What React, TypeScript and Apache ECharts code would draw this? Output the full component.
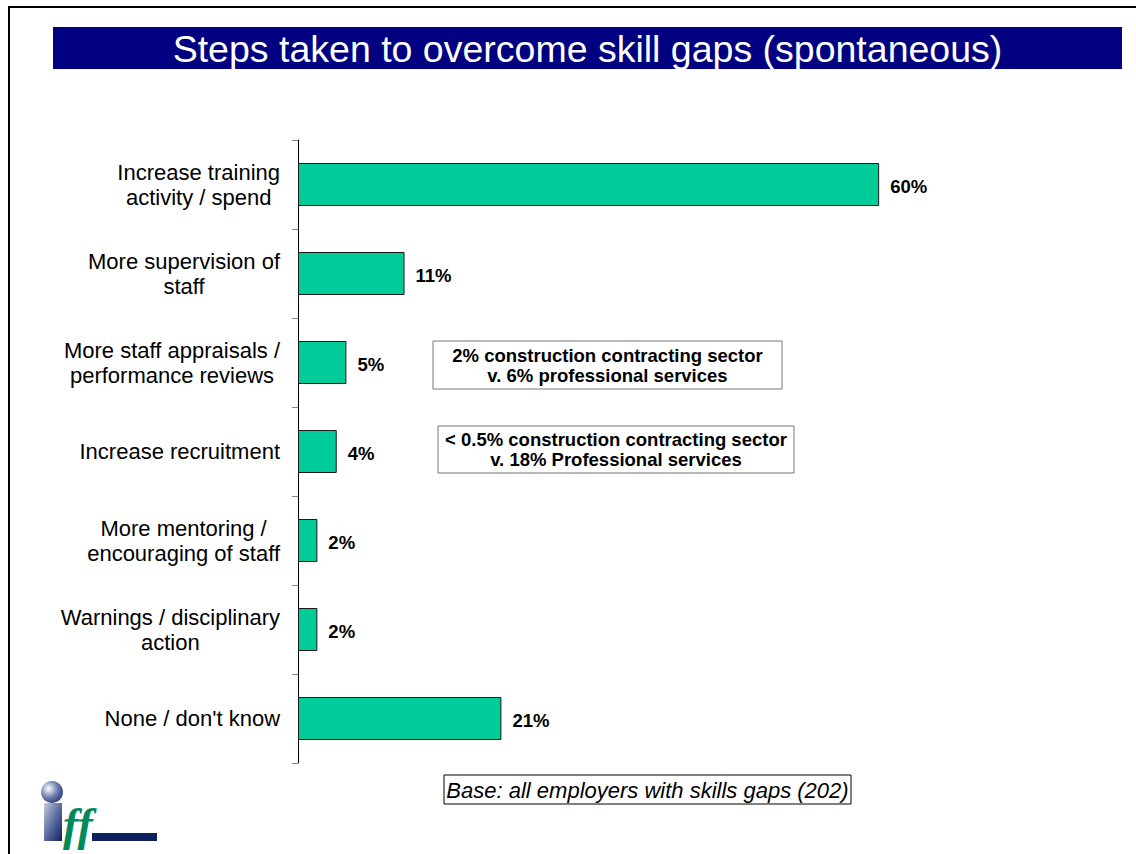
import React, { useEffect, useRef } from "react";
import * as echarts from "echarts";

const title = "Steps taken to overcome skill gaps (spontaneous)";
const categories = [
  "Increase training\nactivity / spend",
  "More supervision of\nstaff",
  "More staff appraisals /\nperformance reviews",
  "Increase recruitment",
  "More mentoring /\nencouraging of staff",
  "Warnings / disciplinary\naction",
  "None / don't know",
];
const values = [60, 11, 5, 4, 2, 2, 21];
const notes = [
  "2% construction contracting sector\nv. 6% professional services",
  "< 0.5% construction contracting sector\nv. 18% Professional services",
];
const baseNote = "Base: all employers with skills gaps (202)";

const FONT = "'Liberation Sans', Arial, Helvetica, sans-serif";

export default function App() {
  const ref = useRef<HTMLDivElement>(null);
  useEffect(() => {
    if (!ref.current) return;
    const chart = echarts.init(ref.current, undefined, { renderer: "svg" });
    const noteBox = (x: number, y: number, w: number, h: number, text: string) => ({
      type: "group",
      children: [
        { type: "rect", shape: { x, y, width: w, height: h }, style: { fill: "#fff", stroke: "#777", lineWidth: 1 } },
        {
          type: "text",
          style: {
            text,
            x: x + w / 2,
            y: y + h / 2,
            align: "center",
            verticalAlign: "middle",
            fill: "#000",
            fontFamily: FONT,
            fontWeight: "bold",
            fontSize: 18.5,
            lineHeight: 20,
          },
        },
      ],
    });
    chart.setOption({
      animation: false,
      backgroundColor: "#fff",
      grid: { left: 298, top: 140, width: 678, height: 623, containLabel: false },
      xAxis: { type: "value", min: 0, max: 70, show: false },
      yAxis: {
        type: "category",
        data: categories,
        inverse: true,
        axisLine: { show: true, lineStyle: { color: "#000", width: 1 } },
        axisTick: { show: true, length: 6, lineStyle: { color: "#888" } },
        splitLine: { show: false },
        axisLabel: {
          margin: 18,
          align: "right",
          formatter: (v: string) => v.split("\n").map((l) => `{c|${l}}`).join("\n"),
          rich: {
            c: { align: "center", fontSize: 22, lineHeight: 25, fontFamily: FONT, color: "#000" },
          },
        },
      },
      series: [
        {
          type: "bar",
          data: values,
          barWidth: 43,
          itemStyle: { color: "#00CC99", borderColor: "#1a1a1a", borderWidth: 1 },
          label: {
            show: true,
            position: "right",
            distance: 11,
            offset: [0, 2],
            formatter: "{c}%",
            color: "#000",
            fontWeight: "bold",
            fontSize: 18.5,
            fontFamily: FONT,
          },
        },
      ],
      graphic: [
        { type: "line", shape: { x1: 8, y1: 7, x2: 1136, y2: 7 }, style: { stroke: "#000", lineWidth: 2 } },
        { type: "line", shape: { x1: 9, y1: 6, x2: 9, y2: 854 }, style: { stroke: "#000", lineWidth: 2 } },
        { type: "rect", shape: { x: 53, y: 27, width: 1069, height: 42 }, style: { fill: "#000080" } },
        {
          type: "text",
          style: {
            text: title,
            x: 587.5,
            y: 49,
            align: "center",
            verticalAlign: "middle",
            fill: "#fff",
            fontFamily: FONT,
            fontSize: 37.5,
          },
        },
        noteBox(433, 341, 349, 48, notes[0]),
        noteBox(438, 426, 356, 47, notes[1]),
        { type: "rect", shape: { x: 444, y: 775, width: 407, height: 29 }, style: { fill: "#fff", stroke: "#000", lineWidth: 1 } },
        {
          type: "text",
          style: {
            text: baseNote,
            x: 647.5,
            y: 790,
            align: "center",
            verticalAlign: "middle",
            fill: "#000",
            fontFamily: FONT,
            fontStyle: "italic",
            fontSize: 22,
          },
        },
        // logo
        {
          type: "circle",
          shape: { cx: 52, cy: 792, r: 11 },
          style: {
            fill: new echarts.graphic.RadialGradient(0.35, 0.35, 0.8, [
              { offset: 0, color: "#ffffff" },
              { offset: 0.5, color: "#6f7fb0" },
              { offset: 1, color: "#1b2a6b" },
            ]),
          },
        },
        {
          type: "rect",
          shape: { x: 44, y: 803, width: 18, height: 38 },
          style: {
            fill: new echarts.graphic.LinearGradient(0, 0, 1, 1, [
              { offset: 0, color: "#c5cce0" },
              { offset: 0.5, color: "#5d6d9e" },
              { offset: 1, color: "#0f2060" },
            ]),
          },
        },
        { type: "rect", shape: { x: 92, y: 833, width: 65, height: 8 }, style: { fill: "#0f2060" } },
        {
          type: "text",
          style: {
            text: "ff",
            x: 78,
            y: 824,
            align: "center",
            verticalAlign: "middle",
            fill: "#008a5a",
            fontFamily: "'Liberation Serif', serif",
            fontStyle: "italic",
            fontWeight: "bold",
            fontSize: 46,
          },
        },
      ],
    });
    return () => chart.dispose();
  }, []);
  return (
    <div
      ref={ref}
      style={{ position: "fixed", left: 0, top: 0, width: 1136, height: 854, background: "#fff" }}
    />
  );
}
